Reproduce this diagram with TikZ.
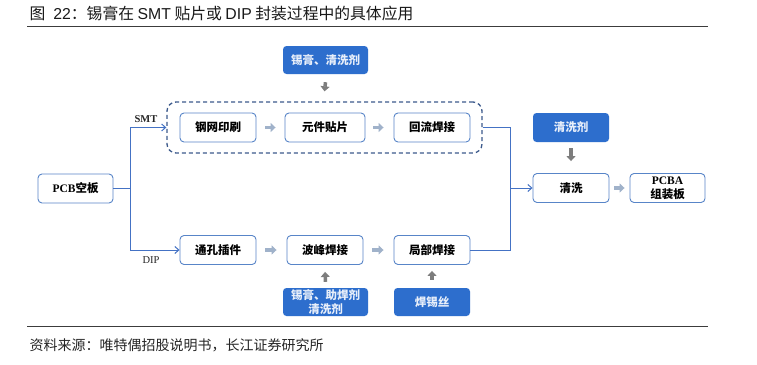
\documentclass[tikz,border=0pt]{standalone}
\usepackage{fontspec}
\setmainfont{Noto Sans CJK SC}
\newfontfamily\latserif{Liberation Serif}
\newfontfamily\latsans{Liberation Sans}
\usetikzlibrary{arrows.meta}
\begin{document}
\begin{tikzpicture}[x=1pt, y=-1pt,
        box/.style={draw=boxline, line width=0.9pt, rounded corners=4pt, fill=white,
          minimum width=76pt, minimum height=29pt, inner sep=0pt, align=center,
          font=\fontsize{11.5}{14}\selectfont\bfseries},
        bluebox/.style={fill=bluefill, rounded corners=3.5pt, text=boxtext,
          minimum width=76pt, minimum height=28pt, inner sep=0pt, align=center,
          font=\fontsize{11.5}{14}\selectfont\bfseries},
        dashbox/.style={draw=dashline, line width=1.3pt, dash pattern=on 4pt off 3pt,
          rounded corners=9pt, minimum width=315pt, minimum height=51pt},
        link/.style={draw=linkblue, line width=1pt},
        linkto/.style={link, -{Straight Barb[length=4pt,width=7pt]}},
        harrow/.style={draw=arrowlight, line width=3.5pt, -{Triangle[length=5pt,width=9pt]}},
        varrow/.style={draw=arrowgray, line width=3.5pt, -{Triangle[length=5pt,width=9pt]}},
        lbl/.style={font=\latserif\fontsize{10.5}{12}\selectfont, text=black!85}]
\definecolor{boxline}{RGB}{88,133,200}
\definecolor{bluefill}{RGB}{45,110,205}
\definecolor{boxtext}{RGB}{232,239,250}
\definecolor{dashline}{RGB}{60,90,140}
\definecolor{linkblue}{RGB}{68,114,196}
\definecolor{arrowlight}{RGB}{160,178,202}
\definecolor{arrowgray}{RGB}{125,125,125}
\definecolor{rulegray}{RGB}{60,60,60}
\useasboundingbox[fill=white] (0,0) rectangle (757,364);
\node[anchor=west, font=\fontsize{15.8}{18}\selectfont, text=black!90] (title) at (26,13.5)
  {图\hspace{8pt}{\latsans 22}：锡膏在 {\latsans SMT} 贴片或 {\latsans DIP} 封装过程中的具体应用};
\draw[rulegray, line width=1pt] (27,26) -- (708,26);
\draw[rulegray, line width=1pt] (27,326) -- (708,326);
\node[anchor=west, font=\fontsize{14}{16}\selectfont, text=black!85] (source) at (26,345)
  {资料来源：唯特偶招股说明书，长江证券研究所};
\node[dashbox] (smt) at (324.5,127.5) {};
\node[bluebox, minimum width=85pt] (xgqxj) at (325.5,60) {锡膏、清洗剂};
\node[box] (gwys) at (218,127.5) {钢网印刷};
\node[box, minimum width=80pt] (yjtp) at (325,127.5) {元件贴片};
\node[box] (hlhj) at (432,127.5) {回流焊接};
\node[box, minimum width=75pt] (pcb) at (75.5,188.5) {{\latserif PCB}空板};
\node[box] (tkcj) at (218,250) {通孔插件};
\node[box] (bfhj) at (325,250) {波峰焊接};
\node[box] (jbhj) at (432,250) {局部焊接};
\node[bluebox, minimum width=85pt] (xgzhj) at (325.5,302) {锡膏、助焊剂\\清洗剂};
\node[bluebox] (hxs) at (432,302) {焊锡丝};
\node[bluebox, minimum height=29pt] (qxj) at (571,127.5) {清洗剂};
\node[box] (qx) at (571,188) {清洗};
\node[box, minimum width=75pt] (pcba) at (667.5,188) {{\latserif PCBA}\\组装板};
\node[lbl, font=\latserif\bfseries\fontsize{10.5}{12}\selectfont] (smtlbl) at (146,119) {SMT};
\node[lbl] (diplbl) at (151,260) {DIP};
\coordinate (split) at (130,188.5);
\coordinate (merge) at (510,188);
\draw[link] (pcb) -- (split);
\draw[linkto] (split) |- (smt.west);
\draw[linkto] (split) |- (tkcj.west);
\draw[link] (smt.east) -| (merge);
\draw[link] (jbhj.east) -| (merge);
\draw[linkto] (merge) -- (qx.west);
\draw[harrow] ([xshift=9pt]gwys.east) -- ([xshift=-9pt]yjtp.west);
\draw[harrow] ([xshift=8pt]yjtp.east) -- ([xshift=-10pt]hlhj.west);
\draw[harrow] ([xshift=9pt]tkcj.east) -- ([xshift=-10pt]bfhj.west);
\draw[harrow] ([xshift=9pt]bfhj.east) -- ([xshift=-10pt]jbhj.west);
\draw[harrow] ([xshift=5pt]qx.east) -- ([xshift=-5pt]pcba.west);
\draw[varrow] ([yshift=-8pt]xgqxj.south) -- ([yshift=10pt]smt.north);
\draw[varrow] ([yshift=-6pt]qxj.south) -- ([yshift=12pt]qx.north);
\draw[varrow] ([yshift=6pt]xgzhj.north) -- ([yshift=-7pt]bfhj.south);
\draw[varrow] ([yshift=8pt]hxs.north) -- ([yshift=-6pt]jbhj.south);
\end{tikzpicture}
\end{document}
